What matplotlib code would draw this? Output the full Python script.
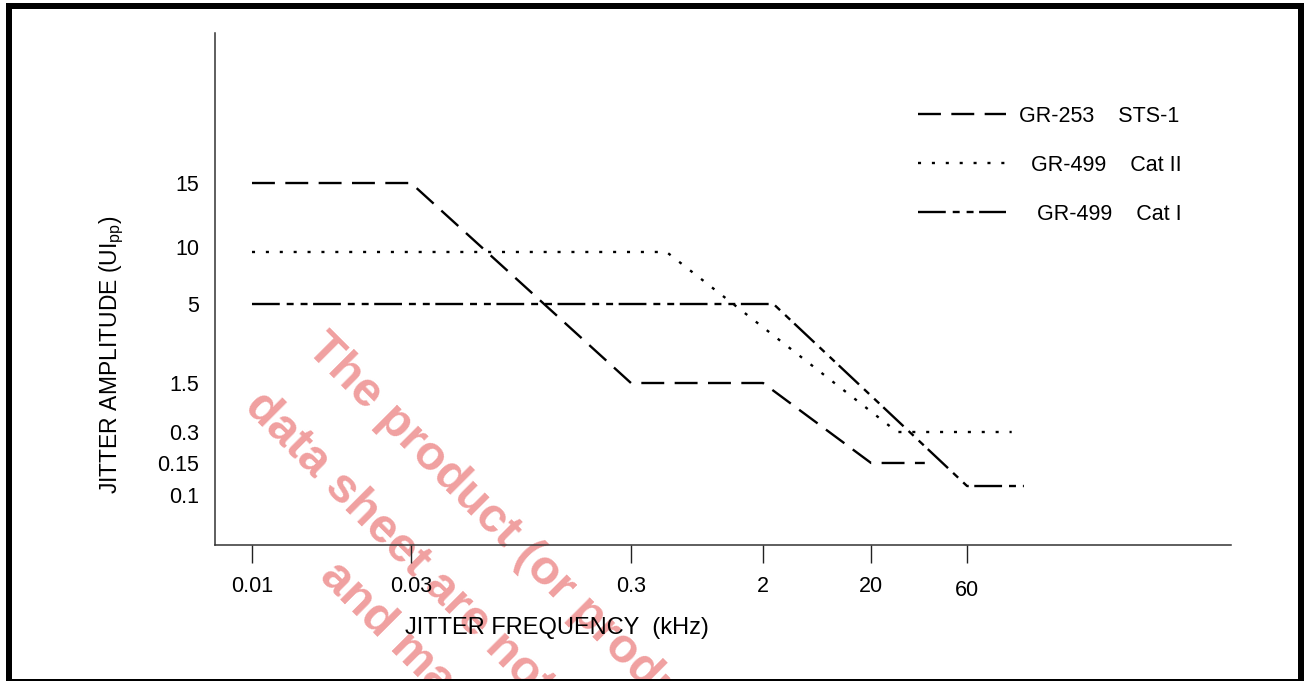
import numpy as np
import matplotlib
matplotlib.use("Agg")
import matplotlib.pyplot as plt
from matplotlib.patches import Rectangle
from matplotlib.transforms import ScaledTranslation
from matplotlib.ticker import FixedLocator, NullLocator

plt.rcParams['font.family'] = ['Liberation Sans', 'DejaVu Sans']
plt.rcParams['lines.scale_dashes'] = False

# ---------------- data ----------------
x_tick_vals = [0.01, 0.03, 0.3, 2, 20, 60]
x_tick_labels = ["0.01", "0.03", "0.3", "2", "20", "60"]
y_tick_vals = [0.1, 0.15, 0.3, 1.5, 5, 10, 15]
y_tick_labels = ["0.1", "0.15", "0.3", "1.5", "5", "10", "15"]

sts1_freq = [0.01, 0.03, 0.3, 2, 20, 37]
sts1_amp = [15, 15, 1.5, 1.5, 0.15, 0.15]
cat2_freq = [0.01, 0.5, 27, 100]
cat2_amp = [10, 10, 0.3, 0.3]
cat1_freq = [0.01, 2.5, 60, 115]
cat1_amp = [5, 5, 0.1, 0.1]

series_labels = ["GR-253    STS-1", "  GR-499    Cat II", "   GR-499    Cat I"]

# schematic axis layout (axes-fraction position of each tick value)
x_layout = [0.0364, 0.1929, 0.4094, 0.5394, 0.6457, 0.7402]
y_layout = [0.1152, 0.1602, 0.2207, 0.3164, 0.4707, 0.5723, 0.7070]


def make_piecewise(vals, pos):
    lv = np.log10(np.asarray(vals, float))
    ps = np.asarray(pos, float)

    def fwd(v):
        v = np.asarray(v, float)
        with np.errstate(all='ignore'):
            l = np.log10(np.clip(v, 1e-12, None))
        out = np.interp(l, lv, ps)
        lo = l < lv[0]
        hi = l > lv[-1]
        s0 = (ps[1] - ps[0]) / (lv[1] - lv[0])
        s1 = (ps[-1] - ps[-2]) / (lv[-1] - lv[-2])
        out = np.where(lo, ps[0] + (l - lv[0]) * s0, out)
        out = np.where(hi, ps[-1] + (l - lv[-1]) * s1, out)
        return out

    def inv(p):
        p = np.asarray(p, float)
        out = np.interp(p, ps, lv)
        s0 = (ps[1] - ps[0]) / (lv[1] - lv[0])
        s1 = (ps[-1] - ps[-2]) / (lv[-1] - lv[-2])
        out = np.where(p < ps[0], lv[0] + (p - ps[0]) / s0, out)
        out = np.where(p > ps[-1], lv[-1] + (p - ps[-1]) / s1, out)
        return 10 ** out

    return fwd, inv


W, H = 1304, 681
fig = plt.figure(figsize=(W / 100, H / 100), dpi=100)
fig.patch.set_facecolor('white')

ax = fig.add_axes([215 / W, (H - 545) / H, 1016 / W, 512 / H])
ax.set_facecolor('none')

xf, xi = make_piecewise(x_tick_vals, x_layout)
yf, yi = make_piecewise(y_tick_vals, y_layout)
ax.set_xscale('function', functions=(xf, xi))
ax.set_yscale('function', functions=(yf, yi))
ax.set_xlim(float(xi(0.0)), float(xi(1.0)))
ax.set_ylim(float(yi(0.0)), float(yi(1.0)))

lw = 1.7
ax.plot(sts1_freq, sts1_amp, color='black', lw=lw,
        linestyle=(0, (16.5, 7.5)), label=series_labels[0])
ax.plot(cat2_freq, cat2_amp, color='black', lw=lw,
        linestyle=(0, (2.2, 7.8)), label=series_labels[1])
ax.plot(cat1_freq, cat1_amp, color='black', lw=lw,
        linestyle=(0, (20, 5, 5, 5, 5, 4)), label=series_labels[2])

ax.xaxis.set_major_locator(FixedLocator(x_tick_vals))
ax.xaxis.set_minor_locator(NullLocator())
ax.set_xticklabels(x_tick_labels)
ax.yaxis.set_major_locator(FixedLocator(y_tick_vals))
ax.yaxis.set_minor_locator(NullLocator())
ax.set_yticklabels(y_tick_labels)

ax.tick_params(axis='x', direction='out', length=13, width=1.0, color='#222222',
               pad=9, labelsize=15.5)
ax.tick_params(axis='y', length=0, pad=11.5, labelsize=15.5)

for s in ['top', 'right']:
    ax.spines[s].set_visible(False)
for s in ['left', 'bottom']:
    ax.spines[s].set_linewidth(1.1)
    ax.spines[s].set_color('#333333')

# small label offsets as in reference
for lab in ax.get_yticklabels():
    if lab.get_text() == "0.1":
        lab.set_transform(lab.get_transform() + ScaledTranslation(0, -9 / 100, fig.dpi_scale_trans))
    if lab.get_text() == "10":
        lab.set_transform(lab.get_transform() + ScaledTranslation(0, 5 / 100, fig.dpi_scale_trans))
for lab in ax.get_xticklabels():
    if lab.get_text() == "60":
        lab.set_transform(lab.get_transform() + ScaledTranslation(0, -4 / 100, fig.dpi_scale_trans))

ax.set_xlabel("JITTER FREQUENCY  (kHz)", fontsize=17)
ax.xaxis.set_label_coords((557 - 215) / 1016, -(628 - 545) / 512)
ax.xaxis.label.set_va('center')
ax.set_ylabel(r"JITTER AMPLITUDE (UI$_{\mathregular{pp}}$)", fontsize=16.5)
ax.yaxis.set_label_coords((112 - 215) / 1016, (545 - 355) / 512)
ax.yaxis.label.set_va('center')

leg = ax.legend(loc='upper left', bbox_to_anchor=(918 / W, 1 - 106 / H),
                bbox_transform=fig.transFigure, frameon=False, fontsize=15.5,
                handlelength=4.1, handletextpad=0.6, labelspacing=1.3,
                borderpad=0, borderaxespad=0)

# watermark
wm_color = '#F0A0A0'
wm_lines = ["The product (or products)", "data sheet are not", "and may"]
wm_pos = [(305, 350), (243, 408), (318, 578)]
for txt, (px, py) in zip(wm_lines, wm_pos):
    fig.text(px / W, 1 - py / H, txt, rotation=-45, rotation_mode='anchor',
             ha='left', va='baseline', fontsize=35, fontweight='bold',
             color=wm_color, zorder=-1)

# page frame
frame = [(6, 3, 6, 678), (1298, 3, 6, 678), (6, 3, 1298, 6), (6, 679, 1298, 2)]
for (x0, y0, w, h) in frame:
    fig.patches.append(Rectangle((x0 / W, 1 - (y0 + h) / H), w / W, h / H,
                                 transform=fig.transFigure, facecolor='black',
                                 edgecolor='none', zorder=5))

fig.savefig("out.png", dpi=100)
